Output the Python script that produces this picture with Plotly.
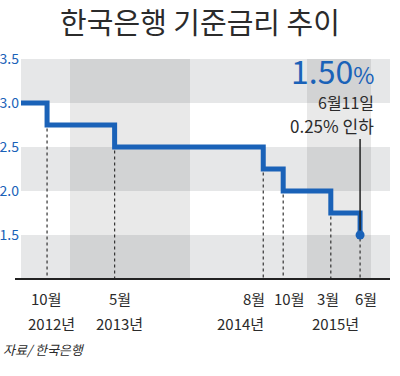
import plotly.graph_objects as go

# ---- data ----
cut_dates = ["2012-07-12", "2012-10-11", "2013-05-09", "2014-08-14", "2014-10-15", "2015-03-12", "2015-06-11"]
rates = [3.00, 2.75, 2.50, 2.25, 2.00, 1.75, 1.50]
month_labels = ["10월", "5월", "8월", "10월", "3월", "6월"]
year_labels = ["2012년", "2013년", "2014년", "2015년"]
y_ticks = [1.5, 2.0, 2.5, 3.0, 3.5]
title_text = "한국은행 기준금리 추이"
source_text = "자료/ 한국은행"
callout_rate = "1.50"
callout_date = "6월11일"
callout_note = "0.25% 인하"

# ---- styles ----
BLUE = "#1a62b8"
DARK = "#2b2b2b"
KR = "Noto Sans CJK KR"
W, H = 400, 376
ML, MR, MT, MB = 21, 10, 59, 97
PW, PH = W - ML - MR, H - MT - MB


def px_x(px):
    return (px - ML) / PW


def px_y(py):
    return (H - MB - py) / PH


fig = go.Figure()

# horizontal stripes
shapes = []
for lo in (1.0, 2.0, 3.0):
    shapes.append(dict(type="rect", xref="paper", yref="y", x0=0, x1=1, y0=lo, y1=lo + 0.5,
                       fillcolor="#e6e7e8", line_width=0, layer="below"))
# year column overlays
for a, b in ((70, 190), (307, 371)):
    shapes.append(dict(type="rect", xref="paper", yref="paper", x0=px_x(a), x1=px_x(b), y0=0, y1=1,
                       fillcolor="rgba(0,0,0,0.085)", line_width=0, layer="below"))
# bottom axis line
shapes.append(dict(type="line", xref="paper", yref="paper", x0=px_x(15), x1=px_x(390), y0=0, y1=0,
                   line=dict(color="#222222", width=2)))
# callout leader line
shapes.append(dict(type="line", xref="x", yref="y", x0=cut_dates[-1], x1=cut_dates[-1], y0=1.55, y1=2.59,
                   line=dict(color="#222222", width=1.5)))
fig.update_layout(shapes=shapes)

# dotted drop lines
dx, dy = [], []
for d, r in zip(cut_dates[1:], rates[1:]):
    dx += [d, d, None]
    dy += [r - 0.04, 1.0, None]
fig.add_trace(go.Scatter(x=dx, y=dy, mode="lines", line=dict(color="#333333", width=1.2, dash="dot"),
                         hoverinfo="skip", showlegend=False))

# step line
fig.add_trace(go.Scatter(x=cut_dates, y=rates, mode="lines", line=dict(color=BLUE, width=5, shape="hv"),
                         showlegend=False))
# end dot
fig.add_trace(go.Scatter(x=[cut_dates[-1]], y=[rates[-1]], mode="markers",
                         marker=dict(color=BLUE, size=9), showlegend=False))

annotations = []
# month labels under cut points
month_shift = [-1, 5, -9, 6, -3, 6]
for d, lab, s in zip(cut_dates[1:], month_labels, month_shift):
    annotations.append(dict(x=d, xref="x", y=px_y(298), yref="paper", text=lab, showarrow=False,
                            xanchor="center", yanchor="middle", xshift=s,
                            font=dict(family=KR, size=15, color=DARK)))
# year labels
year_anchor = [cut_dates[1], cut_dates[2], cut_dates[3], cut_dates[5]]
year_shift = [4, 5, 3, 5]
year_xanchor = ["center", "center", "right", "center"]
for d, lab, s, xa in zip(year_anchor, year_labels, year_shift, year_xanchor):
    annotations.append(dict(x=d, xref="x", y=px_y(323), yref="paper", text=lab, showarrow=False,
                            xanchor=xa, yanchor="middle", xshift=s,
                            font=dict(family=KR, size=15, color=DARK)))
# callout
annotations.append(dict(x=px_x(376), xref="paper", y=px_y(70), yref="paper",
                        text=callout_rate + "<span style='font-size:23px'>%</span>", showarrow=False,
                        xanchor="right", yanchor="middle",
                        font=dict(family=KR, size=32, color=BLUE)))
annotations.append(dict(x=px_x(376), xref="paper", y=px_y(102), yref="paper", text=callout_date,
                        showarrow=False, xanchor="right", yanchor="middle",
                        font=dict(family=KR, size=16, color=DARK)))
annotations.append(dict(x=px_x(376), xref="paper", y=px_y(125), yref="paper", text=callout_note,
                        showarrow=False, xanchor="right", yanchor="middle",
                        font=dict(family=KR, size=17, color=DARK)))
# source
annotations.append(dict(x=px_x(1), xref="paper", y=px_y(349), yref="paper", text="<i>" + source_text + "</i>",
                        showarrow=False, xanchor="left", yanchor="middle",
                        font=dict(family=KR, size=13, color=DARK)))

fig.update_layout(
    width=W, height=H,
    margin=dict(l=ML, r=MR, t=MT, b=MB, pad=0, autoexpand=False),
    paper_bgcolor="white", plot_bgcolor="white",
    title=dict(text=title_text, x=0.5, xref="container", xanchor="center", y=1 - 24 / H, yanchor="middle",
               font=dict(family=KR, size=29, color=DARK)),
    xaxis=dict(type="date", range=["2012-07-22", "2015-09-12"], showgrid=False, zeroline=False,
               showticklabels=False, showline=False, ticks="", automargin=False),
    yaxis=dict(range=[1.0, 3.5], tickvals=y_ticks, ticktext=[f"{v:.1f}" for v in y_ticks],
               showgrid=False, zeroline=False, showline=False, ticks="", automargin=False,
               ticklabelstandoff=1,
               tickfont=dict(family=KR, size=14, color=BLUE)),
    annotations=annotations,
    showlegend=False,
)

fig.write_html("out.html", config={"displayModeBar": False},
               post_script="document.body.style.margin='0';")
